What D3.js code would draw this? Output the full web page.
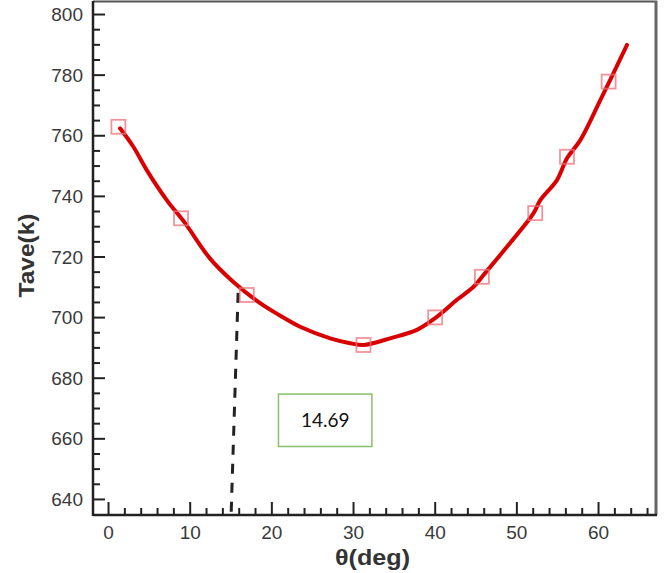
<!DOCTYPE html>
<html>
<head>
<meta charset="utf-8">
<script src="https://cdn.jsdelivr.net/npm/d3@7"></script>
<style>
  html, body { margin: 0; padding: 0; background: #fff; }
  svg { display: block; }
</style>
</head>
<body>
<svg id="chart" width="669" height="573"></svg>
<script>
// ---- data ----
const curveTheta = [1.47, 3.10, 4.74, 7.19, 9.43, 12.50, 15.35, 18.62, 21.0, 23.52, 27.20, 29.65, 31.28, 34.55, 37.82, 40.27, 42.72, 44.76, 45.98, 48.85, 52.11, 52.93, 54.97, 56.20, 57.83, 60.28, 63.55];
const curveTave  = [762.3, 756.2, 748.5, 738.6, 731.0, 719.3, 711.6, 704.6, 700.6, 696.8, 693.0, 691.4, 690.8, 693.0, 695.8, 700.1, 705.7, 710.0, 713.9, 723.2, 734.3, 738.6, 745.2, 752.4, 758.4, 771.6, 789.8];

const markerTheta = [1.27, 8.94, 16.99, 31.28, 40.06, 45.78, 52.31, 56.20, 61.30];
const markerTave  = [762.8, 732.6, 707.3, 690.8, 699.9, 713.3, 734.3, 752.9, 777.7];

const guideTheta = [15.93, 15.07];
const guideTave  = [708.0, 634.7];

const xMajorTicks = [0, 10, 20, 30, 40, 50, 60];
const yMajorTicks = [640, 660, 680, 700, 720, 740, 760, 780, 800];

const xTitle = "θ(deg)";
const yTitle = "Tave(k)";
const annotationText = "14.69";
const annotationBox = { theta0: 20.87, theta1: 32.31, tave0: 657.3, tave1: 674.6 };

// ---- layout ----
const W = 669, H = 573;
const margin = { left: 93, top: 1, right: 12, bottom: 58 };
const svg = d3.select("#chart");

const x = d3.scaleLinear().domain([-1.84, 67.22]).range([margin.left, W - margin.right]);
const y = d3.scaleLinear().domain([634.7, 804.3]).range([H - margin.bottom, margin.top]);

const x0 = margin.left, x1 = W - margin.right, yb = H - margin.bottom, yt = margin.top;

// frame (top and right)
svg.append("line").attr("x1", x0).attr("x2", x1).attr("y1", yt + 0.5).attr("y2", yt + 0.5)
  .attr("stroke", "#555").attr("stroke-width", 2);
svg.append("line").attr("x1", x1 - 1).attr("x2", x1 - 1).attr("y1", yt).attr("y2", yb)
  .attr("stroke", "#666").attr("stroke-width", 3);

// minor / major ticks (inside)
const xMinor = d3.range(0, 67, 2).filter(v => !xMajorTicks.includes(v));
const yMinor = d3.range(640, 804, 5).filter(v => !yMajorTicks.includes(v));

const xAxisMajor = d3.axisBottom(x).tickValues(xMajorTicks).tickSize(-13).tickPadding(20).tickFormat(d3.format("d"));
const xAxisMinor = d3.axisBottom(x).tickValues(xMinor).tickSize(-7).tickFormat("");
const yAxisMajor = d3.axisLeft(y).tickValues(yMajorTicks).tickSize(-12).tickPadding(22).tickFormat(d3.format("d"));
const yAxisMinor = d3.axisLeft(y).tickValues(yMinor).tickSize(-7).tickFormat("");

function styleAxis(g) {
  g.select(".domain").remove();
  g.selectAll(".tick line").attr("stroke", "#222").attr("stroke-width", 2);
  g.selectAll(".tick text").attr("fill", "#3a3a3a")
    .style("font-family", "'Liberation Sans', Arial, sans-serif").style("font-size", "19px");
}

svg.append("g").attr("transform", `translate(0,${yb})`).call(xAxisMinor).call(styleAxis);
svg.append("g").attr("transform", `translate(0,${yb})`).call(xAxisMajor).call(styleAxis)
  .selectAll(".tick text").attr("dy", "0.2em");
svg.append("g").attr("transform", `translate(${x0},0)`).call(yAxisMinor).call(styleAxis);
svg.append("g").attr("transform", `translate(${x0},0)`).call(yAxisMajor).call(styleAxis)
  .selectAll(".tick text").attr("dy", "0.35em").attr("x", -10);

// axis lines
svg.append("line").attr("x1", x0).attr("x2", x1).attr("y1", yb).attr("y2", yb)
  .attr("stroke", "#222").attr("stroke-width", 2.5);
svg.append("line").attr("x1", x0).attr("x2", x0).attr("y1", yt).attr("y2", yb + 1)
  .attr("stroke", "#222").attr("stroke-width", 2.5);

// axis titles
svg.append("text").attr("x", 372.5).attr("y", 565)
  .attr("text-anchor", "middle")
  .attr("textLength", 75).attr("lengthAdjust", "spacingAndGlyphs")
  .style("font-family", "'Liberation Sans', Arial, sans-serif").style("font-size", "22px").style("font-weight", "bold")
  .attr("fill", "#333").text(xTitle);
svg.append("text").attr("transform", "translate(34,255.5) rotate(-90)")
  .attr("text-anchor", "middle")
  .attr("textLength", 84).attr("lengthAdjust", "spacingAndGlyphs")
  .style("font-family", "'Liberation Sans', Arial, sans-serif").style("font-size", "22px").style("font-weight", "bold")
  .attr("fill", "#333").text(yTitle);

// dashed guide line
const guide = guideTheta.map((t, i) => [t, guideTave[i]]);
svg.append("path").datum(guide)
  .attr("d", d3.line().x(d => x(d[0])).y(d => y(d[1])))
  .attr("fill", "none").attr("stroke", "#222").attr("stroke-width", 3)
  .attr("stroke-dasharray", "10,9");

// main curve
const curve = curveTheta.map((t, i) => [t, curveTave[i]]);
svg.append("path").datum(curve)
  .attr("d", d3.line().curve(d3.curveCatmullRom.alpha(0.5)).x(d => x(d[0])).y(d => y(d[1])))
  .attr("fill", "none").attr("stroke", "#d90000").attr("stroke-width", 4)
  .attr("stroke-linecap", "round").attr("stroke-linejoin", "round");

// square markers
const markers = markerTheta.map((t, i) => [t, markerTave[i]]);
const ms = 14;
svg.append("g").selectAll("rect").data(markers).join("rect")
  .attr("x", d => x(d[0]) - ms / 2).attr("y", d => y(d[1]) - ms / 2)
  .attr("width", ms).attr("height", ms)
  .attr("fill", "none").attr("stroke", "#ee6f7a").attr("stroke-opacity", 0.75).attr("stroke-width", 1.8);

// annotation box
const bx0 = x(annotationBox.theta0), bx1 = x(annotationBox.theta1);
const by0 = y(annotationBox.tave1), by1 = y(annotationBox.tave0);
svg.append("rect").attr("x", bx0).attr("y", by0).attr("width", bx1 - bx0).attr("height", by1 - by0)
  .attr("fill", "#fff").attr("stroke", "#86c06a").attr("stroke-width", 1.5);
svg.append("text").attr("x", (bx0 + bx1) / 2).attr("y", (by0 + by1) / 2 + 7)
  .attr("text-anchor", "middle")
  .style("font-family", "Lato, 'Open Sans', sans-serif").style("font-size", "19px")
  .attr("fill", "#111").text(annotationText);
</script>
</body>
</html>
